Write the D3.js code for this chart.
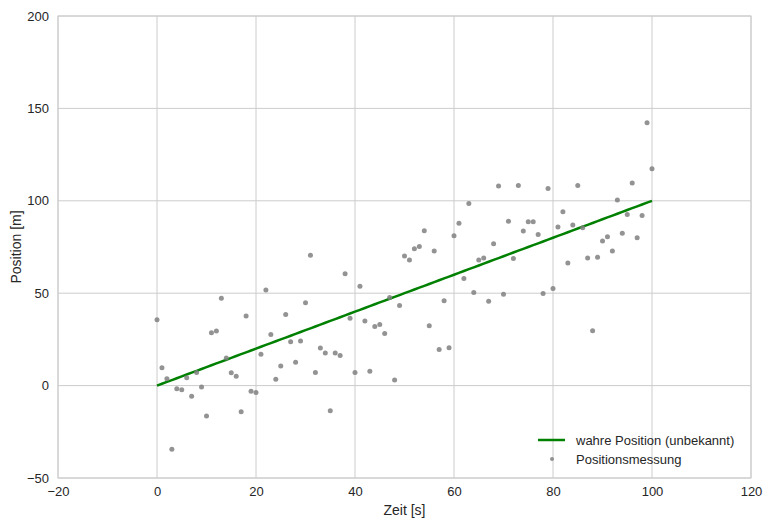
<!DOCTYPE html>
<html><head><meta charset="utf-8">
<script src="https://cdn.jsdelivr.net/npm/d3@7"></script>
<style>body{margin:0;background:#fff}svg{display:block}text{font-family:"Liberation Sans",Arial,sans-serif}</style>
</head><body>
<script>
const times = d3.range(0, 101);
const measurements = [35.6,9.6,3.7,-34.5,-1.7,-2.3,4.2,-5.7,7.1,-0.8,
-16.5,28.6,29.5,47.2,15.0,6.9,5.0,-14.2,37.6,-3.0,
-3.7,16.9,51.7,27.7,3.4,10.6,38.5,23.7,12.6,24.2,
44.8,70.5,7.1,20.3,17.6,-13.6,17.6,16.3,60.5,36.4,
7.1,53.8,34.9,7.8,32.0,33.1,28.2,47.7,3.0,43.4,
70.1,67.9,74.0,75.3,83.8,32.4,72.9,19.6,45.9,20.5,
81.1,87.8,58.0,98.6,50.4,67.9,69.0,45.7,76.7,108.0,
49.4,89.0,68.8,108.3,83.6,88.6,88.6,81.8,49.9,106.7,
52.6,85.8,94.1,66.3,86.9,108.3,85.4,69.0,29.7,69.5,
78.2,80.5,72.8,100.5,82.5,92.6,109.6,80.0,92.1,142.2,117.3];
const truePosition = times.map(t => t); // wahre Position: x = t
const xTicks = [-20,0,20,40,60,80,100,120];
const yTicks = [-50,0,50,100,150,200];
const legendLabels = ["wahre Position (unbekannt)", "Positionsmessung"];

const W = 770, H = 529;
const m = {left:58, right:751, top:16, bottom:478};
const svg = d3.select("body").append("svg").attr("width", W).attr("height", H);
const x = d3.scaleLinear().domain([-20,120]).range([m.left, m.right]);
const y = d3.scaleLinear().domain([-50,200]).range([m.bottom, m.top]);

// grid
svg.append("g").selectAll("line").data(xTicks).join("line")
  .attr("x1", d=>x(d)).attr("x2", d=>x(d)).attr("y1", m.top).attr("y2", m.bottom)
  .attr("stroke", "#cccccc").attr("stroke-width", 1);
svg.append("g").selectAll("line").data(yTicks).join("line")
  .attr("y1", d=>y(d)).attr("y2", d=>y(d)).attr("x1", m.left).attr("x2", m.right)
  .attr("stroke", "#cccccc").attr("stroke-width", 1);
svg.append("rect").attr("x", m.left).attr("y", m.top).attr("width", m.right-m.left).attr("height", m.bottom-m.top)
  .attr("fill", "none").attr("stroke", "#cccccc").attr("stroke-width", 1);

// axes labels
const xAxis = svg.append("g").attr("transform", `translate(0,${m.bottom})`)
  .call(d3.axisBottom(x).tickValues(xTicks).tickSize(0).tickPadding(9).tickFormat(d => d<0 ? "\u2212"+Math.abs(d) : d));
const yAxis = svg.append("g").attr("transform", `translate(${m.left},0)`)
  .call(d3.axisLeft(y).tickValues(yTicks).tickSize(0).tickPadding(9).tickFormat(d => d<0 ? "\u2212"+Math.abs(d) : d));
[xAxis, yAxis].forEach(a => {
  a.select(".domain").remove();
  a.selectAll("text").attr("font-size", 13).attr("fill", "#262626").style("font-family", "'Liberation Sans',Arial,sans-serif");
});

svg.append("text").attr("x", (m.left+m.right)/2).attr("y", 515).attr("text-anchor", "middle")
  .attr("font-size", 14).attr("fill", "#262626").text("Zeit [s]");
svg.append("text").attr("transform", `translate(21,${(m.top+m.bottom)/2}) rotate(-90)`).attr("text-anchor", "middle")
  .attr("font-size", 14).attr("fill", "#262626").text("Position [m]");

// true line
svg.append("path").datum(times)
  .attr("d", d3.line().x(t=>x(t)).y((t,i)=>y(truePosition[i])))
  .attr("fill", "none").attr("stroke", "#008000").attr("stroke-width", 2.5);

// measurements
svg.append("g").selectAll("circle").data(times).join("circle")
  .attr("cx", t=>x(t)).attr("cy", (t,i)=>y(measurements[i])).attr("r", 2.5)
  .attr("fill", "#808080").attr("fill-opacity", 0.85);

// legend
const lg = svg.append("g");
lg.append("line").attr("x1", 538).attr("x2", 565).attr("y1", 440).attr("y2", 440)
  .attr("stroke", "#008000").attr("stroke-width", 2.5);
lg.append("circle").attr("cx", 552).attr("cy", 459).attr("r", 2).attr("fill", "#808080").attr("fill-opacity", 0.85);
lg.selectAll("text").data(legendLabels).join("text")
  .attr("x", 576).attr("y", (d,i)=>440 + i*19).attr("dy", "0.35em")
  .attr("font-size", 13).attr("fill", "#262626").text(d=>d);
</script>
</body></html>
